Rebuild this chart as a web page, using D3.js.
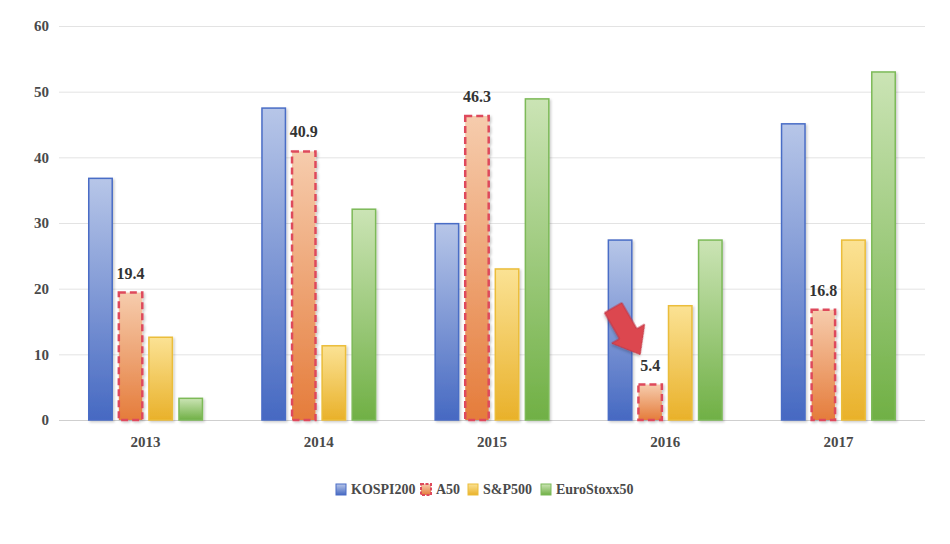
<!DOCTYPE html>
<html>
<head>
<meta charset="utf-8">
<script src="https://cdn.jsdelivr.net/npm/d3@7"></script>
<style>
  body { margin: 0; background: #fff; }
  svg text { font-family: "Liberation Serif", "Times New Roman", serif; font-weight: bold; }
</style>
</head>
<body>
<script>
// ----- data -----
const years = ["2013", "2014", "2015", "2016", "2017"];
const seriesNames = ["KOSPI200", "A50", "S&P500", "EuroStoxx50"];
const kospi = [36.8, 47.5, 29.9, 27.4, 45.1];
const a50 = [19.4, 40.9, 46.3, 5.4, 16.8];
const sp500 = [12.6, 11.3, 23.0, 17.4, 27.4];
const euro = [3.3, 32.1, 48.9, 27.4, 53.0];
const yTicks = [0, 10, 20, 30, 40, 50, 60];

const width = 950, height = 544;

// colours: [top of gradient, bottom of gradient, border]
const styles = {
    "KOSPI200":    { top: "#b7c6e8", bottom: "#4669c2", stroke: "#4a6dc6", dash: null, sw: 1.5 },
    "A50":         { top: "#f6ccad", bottom: "#e57c3b", stroke: "#de4a5c", dash: "7,4", sw: 2.5 },
    "S&P500":      { top: "#fbe294", bottom: "#e9b12a", stroke: "#ebbd3a", dash: null, sw: 1.5 },
    "EuroStoxx50": { top: "#cbe4b5", bottom: "#70b045", stroke: "#7dba58", dash: null, sw: 1.5 }
};

const allSeries = [kospi, a50, sp500, euro];
const data = years.map((yr, i) => ({
    year: yr,
    values: seriesNames.map((s, j) => ({ name: s, value: allSeries[j][i] }))
}));

const svg = d3.select("body").append("svg")
    .attr("width", width)
    .attr("height", height);

const defs = svg.append("defs");

// gradients for each series
seriesNames.forEach((s, i) => {
    const g = defs.append("linearGradient")
        .attr("id", "grad" + i)
        .attr("x1", 0).attr("y1", 0).attr("x2", 0).attr("y2", 1);
    g.append("stop").attr("offset", "0%").attr("stop-color", styles[s].top);
    g.append("stop").attr("offset", "100%").attr("stop-color", styles[s].bottom);
});

// soft shadow for the bars and the arrow
const shadow = defs.append("filter").attr("id", "shadow")
    .attr("x", "-30%").attr("y", "-10%").attr("width", "160%").attr("height", "130%");
shadow.append("feDropShadow")
    .attr("dx", 1.5).attr("dy", 1.5).attr("stdDeviation", 1.2)
    .attr("flood-color", "#000").attr("flood-opacity", 0.2);

// ----- scales -----
const x0 = d3.scaleBand()
    .domain(years)
    .range([59, 925])
    .paddingInner(0.335)
    .paddingOuter(0.1675);

const x1 = d3.scaleBand()
    .domain(seriesNames)
    .range([0, x0.bandwidth()])
    .paddingInner(0.17);

const y = d3.scaleLinear()
    .domain([0, 60])
    .range([420, 26]);

// ----- grid + y axis -----
const yAxis = svg.append("g")
    .attr("transform", "translate(59,0)")
    .call(d3.axisLeft(y).tickValues(yTicks).tickSize(-(925 - 59)).tickPadding(10));
yAxis.select(".domain").remove();
yAxis.selectAll(".tick line")
    .attr("stroke", d => d === 0 ? "#cfcfcf" : "#e3e3e3")
    .attr("stroke-width", 1);
yAxis.selectAll(".tick text")
    .attr("fill", "#4a4a4a")
    .style("font-size", "15px")
    .style("font-family", "'Liberation Serif', serif")
    .style("font-weight", "bold");

// ----- x axis labels -----
const xAxis = svg.append("g")
    .attr("transform", "translate(0,420)")
    .call(d3.axisBottom(x0).tickSize(0).tickPadding(16));
xAxis.select(".domain").remove();
xAxis.selectAll(".tick text")
    .attr("fill", "#4a4a4a")
    .style("font-size", "15px")
    .style("font-family", "'Liberation Serif', serif")
    .style("font-weight", "bold");

// ----- bars -----
const groups = svg.selectAll(".group")
    .data(data)
    .enter()
    .append("g")
    .attr("class", "group")
    .attr("transform", d => "translate(" + x0(d.year) + ",0)");

groups.selectAll("rect")
    .data(d => d.values)
    .enter()
    .append("rect")
    .attr("x", d => x1(d.name) + 0.75)
    .attr("y", d => y(d.value))
    .attr("width", x1.bandwidth() - 1.5)
    .attr("height", d => y(0) - y(d.value))
    .attr("fill", d => "url(#grad" + seriesNames.indexOf(d.name) + ")")
    .attr("stroke", d => styles[d.name].stroke)
    .attr("stroke-width", d => styles[d.name].sw)
    .attr("stroke-dasharray", d => styles[d.name].dash)
    .attr("filter", "url(#shadow)");

// value labels on the A50 bars
groups.append("text")
    .attr("x", x1("A50") + x1.bandwidth() / 2)
    .attr("y", (d, i) => y(a50[i]) - 14)
    .attr("text-anchor", "middle")
    .attr("fill", "#333")
    .style("font-size", "16px")
    .text((d, i) => a50[i].toFixed(1));

// ----- red arrow pointing at the 2016 A50 bar -----
const idx16 = years.indexOf("2016");
const tipX = x0("2016") + x1("A50") + x1.bandwidth() / 2 - 10;
const tipY = y(a50[idx16]) - 30;
const arrowShape = [[0, -10], [30, -10], [30, -19], [54, 0], [30, 19], [30, 10], [0, 10]];
svg.append("path")
    .attr("d", d3.line()(arrowShape.map(p => [p[0] - 54, p[1]])) + "Z")
    .attr("transform", "translate(" + tipX + "," + tipY + ") rotate(60)")
    .attr("fill", "#dc4650")
    .attr("stroke", "#c23440")
    .attr("stroke-width", 1)
    .attr("filter", "url(#shadow)");

// ----- legend -----
const legendItems = [
    { name: "KOSPI200", x: 336 },
    { name: "A50", x: 421 },
    { name: "S&P500", x: 468 },
    { name: "EuroStoxx50", x: 541 }
];
const legend = svg.append("g").attr("transform", "translate(0,489)");
legendItems.forEach(item => {
    const i = seriesNames.indexOf(item.name);
    const st = styles[item.name];
    legend.append("rect")
        .attr("x", item.x)
        .attr("y", -5)
        .attr("width", 10)
        .attr("height", 11)
        .attr("fill", "url(#grad" + i + ")")
        .attr("stroke", st.stroke)
        .attr("stroke-width", item.name === "A50" ? 2 : 1)
        .attr("stroke-dasharray", item.name === "A50" ? "3,1.5" : null);
    legend.append("text")
        .attr("x", item.x + 15)
        .attr("y", 5)
        .attr("fill", "#4a4a4a")
        .style("font-size", "14px")
        .text(item.name);
});
</script>
</body>
</html>
